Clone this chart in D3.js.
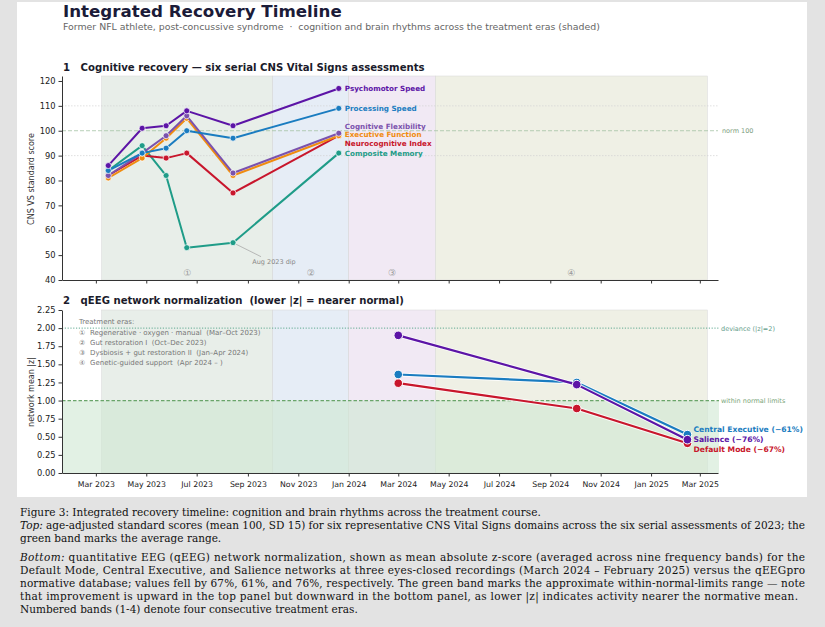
<!DOCTYPE html>
<html>
<head>
<meta charset="utf-8">
<script src="https://cdn.jsdelivr.net/npm/d3@7"></script>
<style>
  body { margin: 0; background: #e3e3e3; }
  svg { display: block; }
</style>
</head>
<body>
<svg id="chart" width="825" height="627"></svg>
<script>
const parse = d3.timeParse("%Y-%m-%d");

// top panel: CNS Vital Signs, six assessments of 2023
const cnsDates = ["2023-03-16", "2023-04-26", "2023-05-25", "2023-06-19", "2023-08-14", "2023-12-20"];
const cnsNames = ["Psychomotor Speed", "Processing Speed", "Cognitive Flexibility", "Executive Function", "Neurocognitive Index", "Composite Memory"];
const psychomotorSpeed = [86, 101, 102, 108, 102, 117];
const processingSpeed = [84, 91, 93, 100, 97, 109];
const cognitiveFlexibility = [82, 91, 98, 106, 83, 99];
const executiveFunction = [81, 89, 97, 105, 82, 98];
const neurocognitiveIndex = [82, 90, 89, 91, 75, 98];
const compositeMemory = [84, 94, 82, 53, 55, 91];
const cnsColors = ["#5c14a6", "#1a7cc0", "#7b52ad", "#f08c10", "#c8162c", "#1f9c88"];

// bottom panel: qEEG network mean |z|
const qeegDates = ["2024-03-01", "2024-10-03", "2025-02-14"];
const qeegNames = ["Central Executive", "Salience", "Default Mode"];
const centralExecutive = [1.36, 1.25, 0.53];
const salience = [1.90, 1.22, 0.46];
const defaultMode = [1.24, 0.89, 0.41];
const qeegColors = ["#1a7cc0", "#5c14a6", "#c8162c"];

// treatment eras
const eraMarks = ["\u2460", "\u2461", "\u2462", "\u2463"];
const eraNames = ["Regenerative \u00b7 oxygen \u00b7 manual  (Mar\u2013Oct 2023)", "Gut restoration I  (Oct\u2013Dec 2023)",
                  "Dysbiosis + gut restoration II  (Jan\u2013Apr 2024)", "Genetic-guided support  (Apr 2024 \u2013 )"];
const eraStart = ["2023-03-08", "2023-10-01", "2024-01-01", "2024-04-15"];
const eraEnd = ["2023-10-01", "2024-01-01", "2024-04-15", "2025-03-10"];
const eraColors = ["#e8eee9", "#e6edf6", "#f1e9f4", "#eff0e5"];

const cnsTicks = [40, 50, 60, 70, 80, 90, 100, 110, 120];
const zTicks = [0, 0.25, 0.5, 0.75, 1.0, 1.25, 1.5, 1.75, 2.0, 2.25];

const svg = d3.select("#chart");
const font = "DejaVu Sans, sans-serif";

svg.append("rect").attr("x", 17).attr("y", 2).attr("width", 790).attr("height", 495).attr("fill", "#fff");

function fitWidth(sel, w) {
    const len = sel.node().getComputedTextLength();
    sel.attr("font-size", parseFloat(sel.attr("font-size")) * w / len);
    return sel;
}

// header
fitWidth(svg.append("text").attr("x", 63).attr("y", 17).attr("font-family", font).attr("font-weight", "bold")
    .attr("font-size", 18).attr("fill", "#1b1b38").text("Integrated Recovery Timeline"), 279);
fitWidth(svg.append("text").attr("x", 63).attr("y", 30).attr("font-family", font).attr("font-size", 9)
    .attr("fill", "#666").style("white-space", "pre")
    .text("Former NFL athlete, post-concussive syndrome  \u00b7  cognition and brain rhythms across the treatment eras (shaded)"), 537);

const x = d3.scaleTime().domain([parse("2023-01-19"), parse("2025-03-23")]).range([62, 718]);
const yTop = d3.scaleLinear().domain([40, 122]).range([280, 76]);
const yBot = d3.scaleLinear().domain([0, 2.25]).range([473, 310]);

function eraBands(g, y) {
    g.selectAll("rect.era").data(eraStart).join("rect").attr("class", "era")
        .attr("x", d => x(parse(d)))
        .attr("width", (d, i) => x(parse(eraEnd[i])) - x(parse(d)))
        .attr("y", y.range()[1]).attr("height", y.range()[0] - y.range()[1])
        .attr("fill", (d, i) => eraColors[i])
        .attr("stroke", "#d6d6d6").attr("stroke-width", 0.5);
}

function styleAxis(g) {
    g.selectAll("path.domain").attr("stroke", "#333").attr("stroke-width", 1);
    g.selectAll(".tick line").attr("stroke", "#333");
    g.selectAll(".tick text").attr("fill", "#222").attr("font-family", font);
}

// ---------- panel 1 ----------
const panelTop = svg.append("g");
fitWidth(panelTop.append("text").attr("x", 63).attr("y", 71).attr("font-family", font).attr("font-weight", "bold")
    .attr("font-size", 11).attr("fill", "#1b1b2b").style("white-space", "pre")
    .text("1   Cognitive recovery \u2014 six serial CNS Vital Signs assessments"), 362);

eraBands(panelTop, yTop);

panelTop.selectAll("line.grid").data([90, 110]).join("line").attr("class", "grid")
    .attr("x1", x.range()[0]).attr("x2", x.range()[1])
    .attr("y1", d => yTop(d)).attr("y2", d => yTop(d))
    .attr("stroke", "#d2d2d2").attr("stroke-width", 0.7).attr("stroke-dasharray", "1.5,1.5");
panelTop.append("line").attr("x1", x.range()[0]).attr("x2", x.range()[1])
    .attr("y1", yTop(100)).attr("y2", yTop(100))
    .attr("stroke", "#a5c4a5").attr("stroke-width", 0.8).attr("stroke-dasharray", "4,2");
panelTop.append("text").attr("x", 722).attr("y", yTop(100) + 2.5).attr("font-family", font).attr("font-size", 6.5)
    .attr("fill", "#7c9c7c").text("norm 100");

panelTop.selectAll("text.era").data(eraMarks).join("text").attr("class", "era")
    .attr("x", (d, i) => (x(parse(eraStart[i])) + x(parse(eraEnd[i]))) / 2).attr("y", 276)
    .attr("text-anchor", "middle").attr("font-family", font).attr("font-size", 9).attr("fill", "#9a9a9a")
    .text(d => d);

const cnsSeries = [psychomotorSpeed, processingSpeed, cognitiveFlexibility, executiveFunction, neurocognitiveIndex, compositeMemory];
const lineTop = d3.line().x((d, i) => x(parse(cnsDates[i]))).y(d => yTop(d));

// annotation for the memory dip
const dipI = 4;
const dipX = x(parse(cnsDates[dipI])), dipY = yTop(compositeMemory[dipI]);
panelTop.append("line").attr("x1", dipX + 3).attr("y1", dipY + 1.5).attr("x2", dipX + 28).attr("y2", dipY + 14)
    .attr("stroke", "#aaa").attr("stroke-width", 0.8);
panelTop.append("text").attr("x", dipX + 41).attr("y", dipY + 21).attr("text-anchor", "middle")
    .attr("font-family", font).attr("font-size", 6.5).attr("fill", "#888").text("Aug 2023 dip");

// draw back to front so psychomotor sits on top
[5, 4, 3, 2, 1, 0].forEach(k => {
    panelTop.append("path").datum(cnsSeries[k]).attr("d", lineTop).attr("fill", "none")
        .attr("stroke", cnsColors[k]).attr("stroke-width", 2).attr("stroke-linejoin", "round");
    panelTop.selectAll(null).data(cnsSeries[k]).join("circle")
        .attr("cx", (d, i) => x(parse(cnsDates[i]))).attr("cy", d => yTop(d)).attr("r", 3)
        .attr("fill", cnsColors[k]).attr("stroke", "#fff").attr("stroke-width", 0.7);
});

// end labels, nudged apart around their group centre
function dodge(ys, gap) {
    const idx = ys.map((d, i) => i).sort((a, b) => ys[a] - ys[b]);
    const out = ys.slice();
    let groups = idx.map(i => ({ items: [i], c: ys[i] }));
    let merged = true;
    while (merged) {
        merged = false;
        for (let j = 0; j < groups.length - 1; j++) {
            const a = groups[j], b = groups[j + 1];
            const aEnd = a.c + (a.items.length - 1) * gap / 2;
            const bStart = b.c - (b.items.length - 1) * gap / 2;
            if (bStart - aEnd < gap) {
                const items = a.items.concat(b.items);
                const c = d3.mean(items, i => ys[i]);
                groups.splice(j, 2, { items, c });
                merged = true;
                break;
            }
        }
    }
    groups.forEach(g => g.items.forEach((i, k) => { out[i] = g.c + (k - (g.items.length - 1) / 2) * gap; }));
    return out;
}

const topLabelY = dodge(cnsSeries.map(s => yTop(s[s.length - 1])), 8.6);
const lastTopX = x(parse(cnsDates[cnsDates.length - 1]));
panelTop.selectAll("text.lab").data(cnsNames).join("text").attr("class", "lab")
    .attr("x", lastTopX + 6).attr("y", (d, i) => topLabelY[i] + 2.6)
    .attr("font-family", font).attr("font-weight", "bold").attr("font-size", 7.2)
    .attr("fill", (d, i) => cnsColors[i]).text(d => d);

const topXAxis = panelTop.append("g").attr("transform", "translate(0,280)")
    .call(d3.axisBottom(x).ticks(d3.timeMonth.every(2)).tickFormat("").tickSizeInner(3.5).tickSizeOuter(0));
styleAxis(topXAxis);
const topYAxis = panelTop.append("g").attr("transform", "translate(62,0)")
    .call(d3.axisLeft(yTop).tickValues(cnsTicks).tickSizeInner(3.5).tickSizeOuter(0));
styleAxis(topYAxis);
topYAxis.selectAll(".tick text").attr("font-size", 8.3);
panelTop.append("text").attr("transform", "translate(34,179) rotate(-90)").attr("text-anchor", "middle")
    .attr("font-family", font).attr("font-size", 8).attr("fill", "#333").text("CNS VS standard score");

// ---------- panel 2 ----------
const panelBot = svg.append("g");
fitWidth(panelBot.append("text").attr("x", 63).attr("y", 304).attr("font-family", font).attr("font-weight", "bold")
    .attr("font-size", 11).attr("fill", "#1b1b2b").style("white-space", "pre")
    .text("2   qEEG network normalization  (lower |z| = nearer normal)"), 341);

eraBands(panelBot, yBot);
panelBot.append("rect").attr("x", x.range()[0]).attr("width", x.range()[1] - x.range()[0] + 1)
    .attr("y", yBot(1)).attr("height", yBot(0) - yBot(1))
    .attr("fill", "#cfe7d2").attr("opacity", 0.6);

panelBot.append("line").attr("x1", x.range()[0]).attr("x2", x.range()[1] + 1)
    .attr("y1", yBot(2)).attr("y2", yBot(2))
    .attr("stroke", "#5fa990").attr("stroke-width", 1).attr("stroke-dasharray", "1.2,1.6");
panelBot.append("line").attr("x1", x.range()[0]).attr("x2", x.range()[1] + 1)
    .attr("y1", yBot(1)).attr("y2", yBot(1))
    .attr("stroke", "#6aa56a").attr("stroke-width", 1.2).attr("stroke-dasharray", "3.5,2");
panelBot.append("text").attr("x", 721).attr("y", yBot(2) + 2.5).attr("font-family", font).attr("font-size", 6.5)
    .attr("fill", "#5f9c8a").text("deviance (|z|=2)");
panelBot.append("text").attr("x", 721).attr("y", yBot(1) + 2.5).attr("font-family", font).attr("font-size", 6.5)
    .attr("fill", "#7aa67a").text("within normal limits");

// era legend
const legend = panelBot.append("g").attr("font-family", font).attr("font-size", 7).attr("fill", "#777");
legend.append("text").attr("x", 79).attr("y", 323.5).text("Treatment eras:");
legend.selectAll("text.mark").data(eraMarks).join("text").attr("class", "mark")
    .attr("x", 79).attr("y", (d, i) => 334.5 + i * 10).text(d => d);
legend.selectAll("text.name").data(eraNames).join("text").attr("class", "name")
    .attr("x", 90).attr("y", (d, i) => 334.5 + i * 10).style("white-space", "pre").text(d => d);

const qeegSeries = [centralExecutive, salience, defaultMode];
const lineBot = d3.line().x((d, i) => x(parse(qeegDates[i]))).y(d => yBot(d));
[2, 0, 1].forEach(k => {
    panelBot.append("path").datum(qeegSeries[k]).attr("d", lineBot).attr("fill", "none")
        .attr("stroke", "#fff").attr("stroke-width", 4).attr("stroke-opacity", 0.8).attr("stroke-linejoin", "round");
    panelBot.append("path").datum(qeegSeries[k]).attr("d", lineBot).attr("fill", "none")
        .attr("stroke", qeegColors[k]).attr("stroke-width", 2.2).attr("stroke-linejoin", "round");
    panelBot.selectAll(null).data(qeegSeries[k]).join("circle")
        .attr("cx", (d, i) => x(parse(qeegDates[i]))).attr("cy", d => yBot(d)).attr("r", 4.3)
        .attr("fill", qeegColors[k]).attr("stroke", "#fff").attr("stroke-width", 1);
});

const botLabelY = dodge(qeegSeries.map(s => yBot(s[s.length - 1])), 10);
const lastBotX = x(parse(qeegDates[qeegDates.length - 1]));
panelBot.selectAll("text.lab").data(qeegNames).join("text").attr("class", "lab")
    .attr("x", lastBotX + 6).attr("y", (d, i) => botLabelY[i] + 2.8)
    .attr("font-family", font).attr("font-weight", "bold").attr("font-size", 7.6)
    .attr("fill", (d, i) => qeegColors[i])
    .text((d, i) => {
        const s = qeegSeries[i];
        const pct = Math.round((s[s.length - 1] - s[0]) / s[0] * 100);
        return d + " (\u2212" + Math.abs(pct) + "%)";
    });

const botXAxis = panelBot.append("g").attr("transform", "translate(0,473)")
    .call(d3.axisBottom(x).ticks(d3.timeMonth.every(2)).tickFormat(d3.timeFormat("%b %Y")).tickSizeInner(3.5).tickSizeOuter(0));
styleAxis(botXAxis);
botXAxis.selectAll(".tick text").attr("font-size", 7.8).attr("dy", "0.9em");
const botYAxis = panelBot.append("g").attr("transform", "translate(62,0)")
    .call(d3.axisLeft(yBot).tickValues(zTicks).tickFormat(d3.format(".2f")).tickSizeInner(3.5).tickSizeOuter(0));
styleAxis(botYAxis);
botYAxis.selectAll(".tick text").attr("font-size", 8.3);
panelBot.append("text").attr("transform", "translate(34,392) rotate(-90)").attr("text-anchor", "middle")
    .attr("font-family", font).attr("font-size", 8).attr("fill", "#333").text("network mean |z|");

// ---------- caption ----------
const serif = "DejaVu Serif, serif";
const cap = svg.append("g").attr("font-family", serif).attr("fill", "#111");
const first = cap.append("text").attr("x", 20).attr("y", 516).attr("font-size", 10.5)
    .text("Figure 3: Integrated recovery timeline: cognition and brain rhythms across the treatment course.");
fitWidth(first, 521);
const capSize = parseFloat(first.attr("font-size"));

const capLines = [
    { y: 529, lead: "Top:", rest: " age-adjusted standard scores (mean 100, SD 15) for six representative CNS Vital Signs domains across the six serial assessments of 2023; the", w: 785 },
    { y: 542, rest: "green band marks the average range." },
    { y: 561, lead: "Bottom:", rest: " quantitative EEG (qEEG) network normalization, shown as mean absolute z-score (averaged across nine frequency bands) for the", w: 785 },
    { y: 574, rest: "Default Mode, Central Executive, and Salience networks at three eyes-closed recordings (March 2024 \u2013 February 2025) versus the qEEGpro", w: 785 },
    { y: 587, rest: "normative database; values fell by 67%, 61%, and 76%, respectively. The green band marks the approximate within-normal-limits range \u2014 note", w: 785 },
    { y: 600, rest: "that improvement is upward in the top panel but downward in the bottom panel, as lower |z| indicates activity nearer the normative mean.", w: 778 },
    { y: 613, rest: "Numbered bands (1-4) denote four consecutive treatment eras." }
];
capLines.forEach(l => {
    const t = cap.append("text").attr("x", 20).attr("y", l.y).attr("font-size", capSize);
    if (l.lead) t.append("tspan").attr("font-style", "italic").text(l.lead);
    t.append("tspan").text(l.rest);
    if (l.w) t.attr("textLength", l.w).attr("lengthAdjust", "spacing");
});
</script>
</body>
</html>
